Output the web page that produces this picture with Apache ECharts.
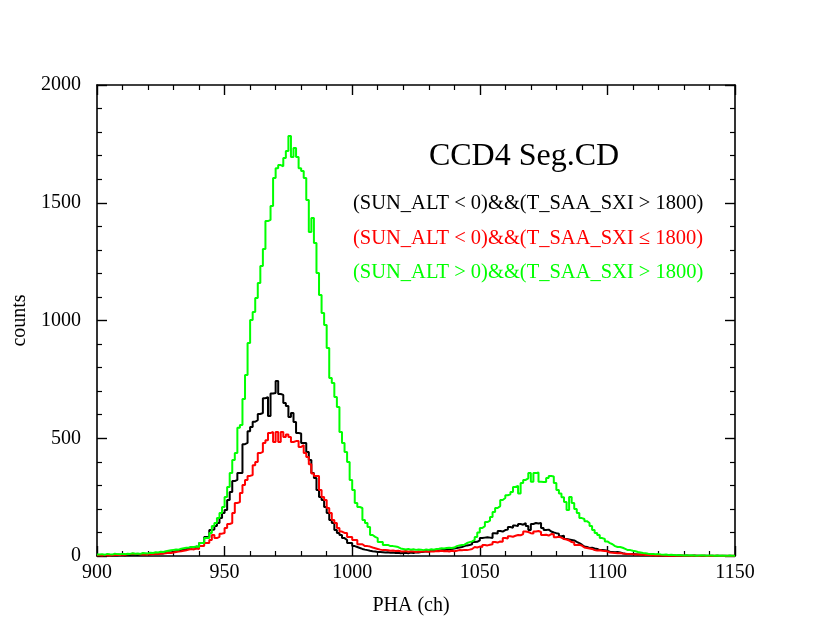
<!DOCTYPE html>
<html>
<head>
<meta charset="utf-8">
<script src="https://cdn.jsdelivr.net/npm/echarts@6/dist/echarts.min.js"></script>
<style>
  html, body { margin: 0; padding: 0; background: #fff; }
  #chart { width: 830px; height: 642px; }
</style>
</head>
<body>
<div id="chart"></div>
<script>
// PHA histogram, one bin per channel, starting at channel 900
const firstChannel = 900;

const seriesNames = [
  '(SUN_ALT < 0)&&(T_SAA_SXI > 1800)',
  '(SUN_ALT < 0)&&(T_SAA_SXI \u2264 1800)',
  '(SUN_ALT > 0)&&(T_SAA_SXI > 1800)'
];
const seriesColors = ['#000000', '#ff0000', '#00ff00'];

const nightHigh = [
  2, 3, 2, 4, 3, 2, 4, 3, 5, 4,
  3, 5, 4, 6, 5, 4, 6, 7, 6, 8,
  7, 9, 8, 10, 12, 11, 14, 16, 15, 18,
  20, 22, 25, 27, 30, 33, 38, 36, 40, 38,
  55, 55, 81, 80, 110, 112, 127, 140, 161, 183,
  195, 238, 272, 318, 323, 352, 352, 475, 480, 530,
  548, 570, 577, 603, 607, 670, 675, 594, 690, 692,
  743, 688, 684, 650, 637, 590, 607, 569, 522, 520,
  480, 480, 442, 408, 352, 331, 280, 251, 238, 208,
  183, 153, 140, 110, 98, 89, 76, 68, 55, 55,
  42, 38, 34, 30, 27, 25, 22, 20, 19, 17,
  17, 16, 15, 16, 14, 15, 13, 14, 12, 13,
  14, 12, 15, 13, 16, 15, 17, 18, 20, 19,
  22, 21, 24, 23, 25, 26, 25, 28, 30, 32,
  34, 36, 38, 42, 45, 47, 50, 59, 60, 66,
  76, 78, 80, 78, 76, 97, 95, 106, 104, 110,
  112, 123, 120, 129, 127, 136, 133, 140, 127, 110,
  136, 140, 138, 140, 119, 110, 112, 104, 100, 97,
  95, 84, 86, 72, 70, 68, 66, 60, 55, 48,
  40, 38, 34, 35, 32, 30, 25, 26, 24, 22,
  18, 17, 16, 17, 15, 12, 10, 9, 8, 8,
  7, 6, 6, 5, 4, 5, 4, 3, 3, 2,
  3, 2, 2, 1, 2, 2, 1, 2, 1, 1,
  2, 1, 1, 2, 1, 1, 0, 1, 1, 0,
  1, 0, 1, 1, 0, 1, 0, 1, 0, 1
];

const nightLow = [
  3, 2, 4, 3, 2, 3, 4, 5, 4, 6,
  5, 7, 8, 10, 9, 8, 7, 6, 7, 6,
  8, 7, 9, 8, 10, 11, 12, 14, 13, 15,
  17, 19, 20, 22, 24, 27, 30, 28, 32, 30,
  42, 42, 55, 55, 68, 89, 76, 81, 95, 98,
  119, 136, 140, 183, 225, 229, 267, 301, 323, 340,
  344, 385, 399, 437, 442, 480, 492, 522, 527, 484,
  527, 484, 527, 505, 516, 505, 484, 488, 488, 463,
  471, 437, 420, 390, 350, 340, 340, 280, 251, 238,
  204, 183, 153, 140, 119, 104, 98, 98, 81, 81,
  68, 68, 50, 50, 42, 42, 40, 36, 33, 30,
  27, 25, 26, 24, 22, 23, 21, 22, 20, 19,
  21, 18, 20, 19, 17, 19, 18, 20, 19, 18,
  20, 19, 21, 20, 22, 20, 21, 19, 22, 20,
  22, 25, 24, 26, 25, 27, 30, 38, 36, 40,
  38, 47, 45, 48, 50, 59, 57, 62, 60, 76,
  74, 84, 82, 86, 89, 88, 93, 104, 102, 97,
  95, 104, 106, 102, 89, 90, 87, 93, 92, 80,
  82, 78, 72, 70, 66, 59, 57, 47, 48, 44,
  36, 34, 32, 30, 25, 23, 24, 22, 21, 20,
  15, 14, 13, 12, 13, 11, 10, 9, 8, 7,
  6, 6, 5, 5, 4, 4, 3, 3, 2, 3,
  2, 2, 1, 2, 1, 2, 1, 1, 2, 1,
  1, 1, 0, 1, 1, 0, 1, 1, 0, 1,
  0, 1, 1, 0, 1, 0, 1, 0, 1, 0
];

const dayHigh = [
  6, 8, 5, 9, 7, 6, 10, 8, 7, 9,
  8, 10, 9, 12, 10, 11, 9, 13, 12, 11,
  14, 13, 16, 15, 18, 17, 20, 22, 24, 26,
  28, 27, 31, 33, 35, 36, 38, 38, 40, 38,
  55, 55, 76, 76, 98, 127, 140, 161, 183, 208,
  251, 293, 352, 408, 437, 545, 556, 667, 769, 904,
  1002, 1036, 1096, 1159, 1231, 1304, 1422, 1427, 1486, 1605,
  1647, 1660, 1655, 1690, 1720, 1783, 1694, 1732, 1694, 1647,
  1635, 1605, 1512, 1376, 1435, 1329, 1202, 1108, 1032, 981,
  883, 756, 735, 675, 633, 527, 480, 442, 399, 323,
  280, 225, 208, 204, 153, 140, 123, 89, 81, 76,
  59, 59, 47, 47, 42, 42, 40, 38, 32, 30,
  28, 30, 27, 29, 26, 28, 27, 25, 28, 26,
  29, 27, 30, 31, 33, 32, 34, 35, 34, 36,
  42, 45, 47, 48, 55, 59, 62, 68, 81, 100,
  119, 127, 144, 150, 166, 187, 204, 212, 238, 246,
  258, 262, 272, 293, 298, 265, 310, 323, 330, 352,
  315, 352, 355, 315, 314, 314, 331, 340, 338, 310,
  280, 265, 250, 229, 195, 251, 225, 200, 183, 161,
  157, 148, 140, 127, 110, 98, 89, 76, 72, 62,
  55, 50, 42, 38, 38, 35, 30, 25, 25, 22,
  20, 17, 15, 13, 12, 10, 9, 8, 7, 8,
  6, 5, 6, 4, 5, 4, 3, 4, 3, 2,
  3, 2, 3, 2, 1, 2, 3, 2, 1, 2,
  2, 1, 2, 1, 2, 1, 1, 2, 1, 1
];

const xTicks = { min: 900, max: 1150, interval: 50 };
const yTicks = { min: 0, max: 2000, interval: 500 };

const serif = '"Liberation Serif", "DejaVu Serif", serif';

// bin left edges, plus a closing point so the last bin is drawn
const toSteps = (values) => {
  const pts = values.map((v, i) => [firstChannel + i, v]);
  pts.push([firstChannel + values.length, values[values.length - 1]]);
  return pts;
};

const frameAxis = (extra) => Object.assign({
  type: 'value',
  axisLine: { show: true, onZero: false, lineStyle: { color: '#000', width: 1.6 } },
  axisTick: { show: true, inside: true, length: 10, lineStyle: { color: '#000', width: 1.4 } },
  minorTick: { show: true, splitNumber: 5, length: 5, lineStyle: { color: '#000', width: 1.2 } },
  splitLine: { show: false },
  minorSplitLine: { show: false }
}, extra);

const chart = echarts.init(document.getElementById('chart'), null, { renderer: 'canvas' });

const option = {
  animation: false,
  backgroundColor: '#fff',
  grid: { left: 97, right: 95, top: 85, bottom: 86 },
  xAxis: [
    frameAxis({
      position: 'bottom',
      min: xTicks.min, max: xTicks.max, interval: xTicks.interval,
      axisLabel: { color: '#000', fontFamily: serif, fontSize: 20, margin: 7, formatter: (v) => String(v) },
      name: 'PHA (ch)',
      nameLocation: 'middle',
      nameGap: 40,
      nameTextStyle: { color: '#000', fontFamily: serif, fontSize: 20, padding: [0, 10, 0, 0] }
    }),
    frameAxis({
      position: 'top',
      min: xTicks.min, max: xTicks.max, interval: xTicks.interval,
      axisLabel: { show: false }
    })
  ],
  yAxis: [
    frameAxis({
      position: 'left',
      min: yTicks.min, max: yTicks.max, interval: yTicks.interval,
      axisLabel: { color: '#000', fontFamily: serif, fontSize: 20, margin: 16, formatter: (v) => String(v) },
      name: 'counts',
      nameLocation: 'middle',
      nameGap: 49,
      nameTextStyle: { color: '#000', fontFamily: serif, fontSize: 20 }
    }),
    frameAxis({
      position: 'right',
      min: yTicks.min, max: yTicks.max, interval: yTicks.interval,
      axisLabel: { show: false }
    })
  ],
  series: [nightHigh, nightLow, dayHigh].map((values, i) => ({
    name: seriesNames[i],
    type: 'line',
    step: 'end',
    symbol: 'none',
    clip: true,
    data: toSteps(values),
    lineStyle: { color: seriesColors[i], width: 2 },
    z: 2 + i
  })),
  graphic: [
    {
      type: 'text', x: 524, y: 157,
      style: { text: 'CCD4 Seg.CD', fill: '#000', font: '32px ' + serif, align: 'center', verticalAlign: 'middle' }
    }
  ].concat(seriesNames.map((name, i) => ({
    type: 'text', x: 353, y: 204 + i * 34.5,
    style: { text: name, fill: seriesColors[i], font: '20.5px ' + serif, align: 'left', verticalAlign: 'middle' }
  })))
};

chart.setOption(option);
</script>
</body>
</html>
